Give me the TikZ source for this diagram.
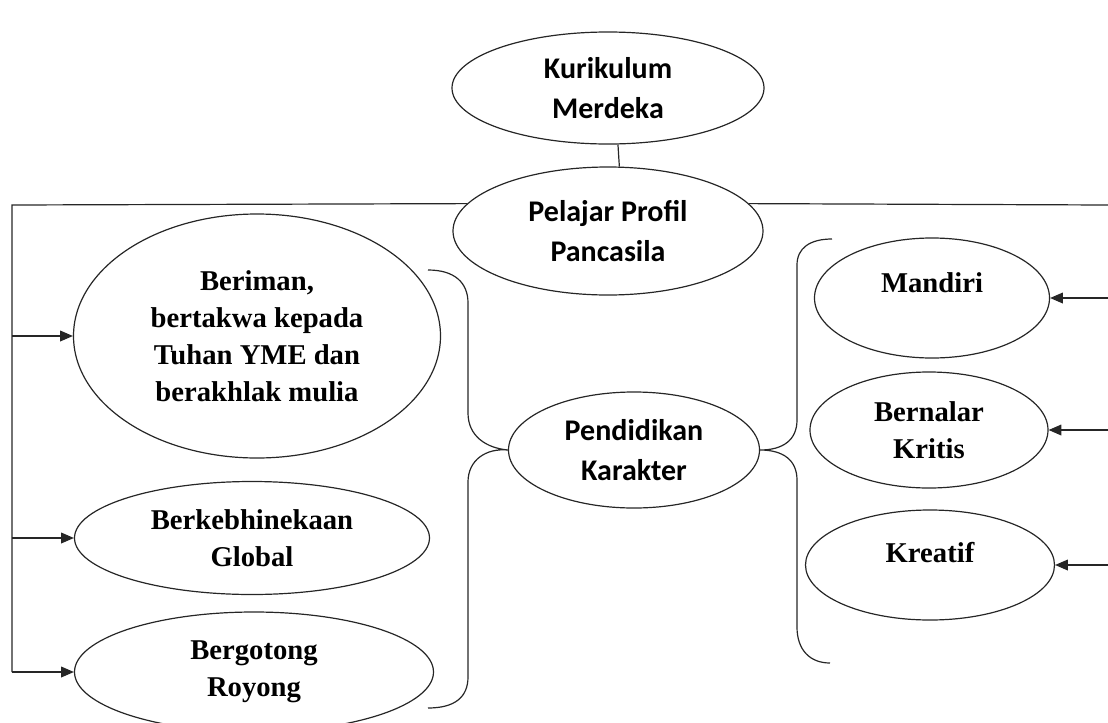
\documentclass[tikz,border=0pt]{standalone}
\usepackage{fontspec}
\setmainfont{Liberation Serif}
\newfontfamily\calib{Carlito}
\usetikzlibrary{shapes.geometric,arrows.meta}
\begin{document}
\begin{tikzpicture}[x=0.75pt,y=-0.75pt,
  oval/.style={ellipse,draw=black!85,line width=0.9pt,inner sep=0pt,align=center},
  sansoval/.style={oval,font=\calib\bfseries\fontsize{22.5pt}{30pt}\selectfont},
  serifoval/.style={oval,font=\bfseries\fontsize{21.5pt}{27.75pt}\selectfont},
  conn/.style={draw=black!85,line width=0.9pt},
  arr/.style={conn,-{Triangle[length=9.5pt,width=8pt]}}]
\useasboundingbox (0,0) rectangle (1108,722);
\clip (0,0) rectangle (1108,722);
% nodes
\node[sansoval,minimum width=234pt,minimum height=84pt] (kur) at (608,88) {Kurikulum\\Merdeka};
\node[sansoval,minimum width=232.5pt,minimum height=96pt] (pel) at (608,231) {Pelajar Profil\\Pancasila};
\node[serifoval,minimum width=275.25pt,minimum height=183pt] (ber) at (257,336) {Beriman,\\bertakwa kepada\\Tuhan YME dan\\berakhlak mulia};
\node[serifoval,minimum width=266.25pt,minimum height=84.75pt] (keb) at (252,538) {Berkebhinekaan\\Global};
\node[serifoval,minimum width=269.25pt,minimum height=90pt] (got) at (254,672) {Bergotong\\Royong};
\node[sansoval,minimum width=188.25pt,minimum height=87pt] (pend) at (634,450) {Pendidikan\\Karakter};
\node[serifoval,minimum width=176.25pt,minimum height=90pt,text height=14pt,text depth=23pt] (man) at (932,298) {Mandiri};
\node[serifoval,minimum width=178.5pt,minimum height=87pt] (nal) at (929,430) {Bernalar\\Kritis};
\node[serifoval,minimum width=186.75pt,minimum height=82.5pt,text height=14pt,text depth=18.5pt] (kre) at (930,565) {Kreatif};
% coordinates for free ends
\coordinate (L0) at (12,205);
\coordinate (L3) at (12,672);
\coordinate (R0) at (1108,205);
% connectors
\draw[conn] (kur.-80) -- (pel.80);
\draw[conn] (pel.169) -- (L0) -- (L3);
\draw[conn] (pel.11) -- (R0);
\draw[arr] (L0 |- ber.west) -- (ber.west);
\draw[arr] (L0 |- keb.west) -- (keb.west);
\draw[arr] (L3) -- (got.west);
\draw[arr] (R0 |- man.east) -- (man.east);
\draw[arr] (R0 |- nal.east) -- (nal.east);
\draw[arr] (R0 |- kre.east) -- (kre.east);
% braces
\draw[conn] (428,270) .. controls (455,270) and (468,283) .. (468,303) -- (468,413)
  .. controls (468,436) and (486,448) .. (pend.west)
  .. controls (486,448) and (468,460) .. (468,482) -- (468,677)
  .. controls (468,697) and (455,708) .. (428,708);
\draw[conn] (832,239) .. controls (810,239) and (797,248) .. (797,265) -- (797,420)
  .. controls (797,440) and (783,450) .. (pend.east)
  .. controls (783,450) and (797,460) .. (797,480) -- (797,627)
  .. controls (797,650) and (810,663) .. (830,663);
\end{tikzpicture}
\end{document}
